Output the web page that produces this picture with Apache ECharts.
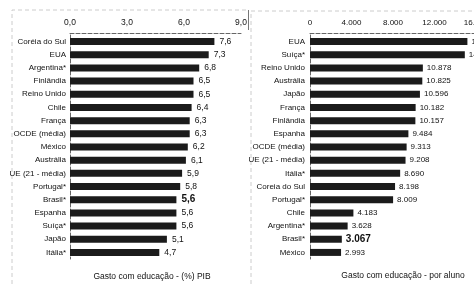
<!DOCTYPE html>
<html><head><meta charset="utf-8">
<script src="https://cdn.jsdelivr.net/npm/echarts@6/dist/echarts.min.js"></script>
<style>html,body{margin:0;padding:0;background:#fff}#c{width:474px;height:284px}</style>
</head><body><div id="c"></div>
<script>
const pibCategories = ['Coréia do Sul','EUA','Argentina*','Finlândia','Reino Unido','Chile','França','OCDE (média)','México','Austrália','UE (21 - média)','Portugal*','Brasil*','Espanha','Suíça*','Japão','Itália*'];
const pibValues = [7.6,7.3,6.8,6.5,6.5,6.4,6.3,6.3,6.2,6.1,5.9,5.8,5.6,5.6,5.6,5.1,4.7];
const pibTicks = [0,3,6,9];
const alunoCategories = ['EUA','Suíça*','Reino Unido','Austrália','Japão','França','Finlândia','Espanha','OCDE (média)','UE (21 - média)','Itália*','Coreia do Sul','Portugal*','Chile','Argentina*','Brasil*','México'];
const alunoValues = [15171,14922,10878,10825,10596,10182,10157,9484,9313,9208,8690,8198,8009,4183,3628,3067,2993];
const alunoTicks = [0,4000,8000,12000,16000];
const titles = ['Gasto com educação - (%) PIB','Gasto com educação - por aluno'];

const FF = "'Liberation Sans Narrow','Liberation Sans',sans-serif";
const TXT = '#111';
const BAR = '#1b1b1b';
function fmtPib(v){return v.toFixed(1).replace('.',',');}
function fmtAluno(v){return String(v).replace(/\B(?=(\d{3})+(?!\d))/g,'.');}
function richData(vals, cats){
  return vals.map((v,i)=>({value:v, label: cats[i]==='Brasil*' ? {fontSize:10, fontWeight:'bold'} : undefined}));
}
const chart = echarts.init(document.getElementById('c'), null, {renderer:'canvas'});
const axisLine = {show:true, lineStyle:{color:'#666', type:'dashed', width:1}};
chart.setOption({
  animation:false,
  backgroundColor:'#fff',
  textStyle:{fontFamily:FF},
  grid:[
    {left:70, top:35, width:171, height:224, outerBoundsMode:'none', containLabel:false},
    {left:310, top:35, width:166, height:224, outerBoundsMode:'none', containLabel:false}
  ],
  xAxis:[
    {gridIndex:0, type:'value', position:'top', min:pibTicks[0], max:pibTicks[pibTicks.length-1], interval:pibTicks[1]-pibTicks[0], offset:2,
     axisLine:axisLine, axisTick:{show:false}, splitLine:{show:false},
     axisLabel:{color:TXT, fontSize:8.5, margin:6, fontFamily:FF, formatter:v=>fmtPib(v)}},
    {gridIndex:1, type:'value', position:'top', min:alunoTicks[0], max:alunoTicks[alunoTicks.length-1], interval:alunoTicks[1]-alunoTicks[0], offset:2,
     axisLine:axisLine, axisTick:{show:false}, splitLine:{show:false},
     axisLabel:{color:TXT, fontSize:8, margin:6, fontFamily:FF, formatter:v=>fmtAluno(v)}}
  ],
  yAxis:[
    {gridIndex:0, type:'category', inverse:true, data:pibCategories,
     axisLine:axisLine, axisTick:{show:false},
     axisLabel:{color:TXT, fontSize:8, margin:4, fontFamily:FF}},
    {gridIndex:1, type:'category', inverse:true, data:alunoCategories,
     axisLine:axisLine, axisTick:{show:false},
     axisLabel:{color:TXT, fontSize:8, margin:5, fontFamily:FF}}
  ],
  series:[
    {type:'bar', xAxisIndex:0, yAxisIndex:0, data:richData(pibValues,pibCategories), barWidth:7,
     itemStyle:{color:BAR},
     label:{show:true, position:'right', distance:5, color:TXT, fontSize:8.5, fontFamily:FF, formatter:p=>fmtPib(p.value)}},
    {type:'bar', xAxisIndex:1, yAxisIndex:1, data:richData(alunoValues,alunoCategories), barWidth:7,
     itemStyle:{color:BAR},
     label:{show:true, position:'right', distance:4, color:TXT, fontSize:8, fontFamily:FF, formatter:p=>fmtAluno(p.value)}}
  ],
  title:[
    {text:titles[0], left:147, top:267, textAlign:'center', textStyle:{fontSize:8.5, fontWeight:'normal', color:TXT, fontFamily:FF}},
    {text:titles[1], left:398, top:266, textAlign:'center', textStyle:{fontSize:8.5, fontWeight:'normal', color:TXT, fontFamily:FF}}
  ],
  graphic:[
    {type:'polyline', shape:{points:[[12,284],[12,10],[248,10]]}, style:{stroke:'#ccc', fill:null, lineDash:[4,3], lineWidth:1}, silent:true},
    {type:'polyline', shape:{points:[[251,284],[251,11],[474,11]]}, style:{stroke:'#ccc', fill:null, lineDash:[4,3], lineWidth:1}, silent:true},
    {type:'line', shape:{x1:248.5, y1:10, x2:248.5, y2:30}, style:{stroke:'#777', lineWidth:1}, silent:true}
  ]
});
</script></body></html>
